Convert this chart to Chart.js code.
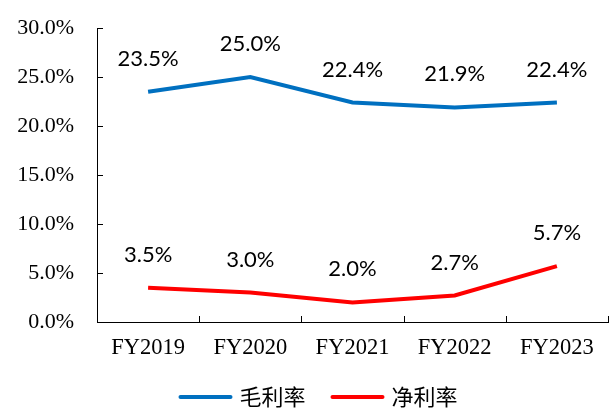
<!DOCTYPE html>
<html>
<head>
<meta charset="utf-8">
<script src="https://cdn.jsdelivr.net/npm/chart.js@4/dist/chart.umd.min.js"></script>
<style>
  html, body { margin: 0; padding: 0; background: #fff; }
  #wrap { width: 611px; height: 412px; }
</style>
</head>
<body>
<div id="wrap"><canvas id="c" width="611" height="412"></canvas></div>
<script>
const years = ['FY2019', 'FY2020', 'FY2021', 'FY2022', 'FY2023'];
const grossMargin = [23.5, 25.0, 22.4, 21.9, 22.4];
const netMargin = [3.5, 3.0, 2.0, 2.7, 5.7];
const seriesNames = ['毛利率', '净利率'];

// 数据标签 + 内侧刻度 + 图例
const labelPlugin = {
  id: 'labels',
  afterDatasetsDraw(chart) {
    const ctx = chart.ctx;
    ctx.save();
    ctx.fillStyle = '#000';
    ctx.font = '22px Lato, "Liberation Sans", sans-serif';
    ctx.textAlign = 'center';
    ctx.textBaseline = 'middle';
    chart.data.datasets.forEach((ds, i) => {
      chart.getDatasetMeta(i).data.forEach((pt, j) => {
        ctx.fillText(ds.data[j].toFixed(1) + '%', pt.x, pt.y - 33);
      });
    });

    const area = chart.chartArea;
    const ys = chart.scales.y;
    ctx.strokeStyle = '#000';
    ctx.lineWidth = 1;
    ctx.beginPath();
    ys.ticks.forEach(t => {
      const y = Math.round(ys.getPixelForValue(t.value)) + 0.5;
      ctx.moveTo(area.left, y);
      ctx.lineTo(area.left + 6, y);
    });
    const n = years.length;
    const w = (area.right - area.left) / n;
    for (let i = 0; i <= n; i++) {
      const x = Math.round(area.left + w * i) + 0.5;
      ctx.moveTo(x, area.bottom);
      ctx.lineTo(x, area.bottom - 6);
    }
    ctx.stroke();

    // legend
    ctx.font = '22px "Noto Sans CJK SC", sans-serif';
    ctx.textAlign = 'left';
    const lineLen = 54, gap = 7, itemGap = 25;
    const items = chart.data.datasets.map(ds => ({ ds, tw: ctx.measureText(ds.label).width }));
    const total = items.reduce((s, it) => s + lineLen + gap + it.tw, 0) + itemGap * (items.length - 1);
    let x = 318 - total / 2;
    const ly = 397;
    items.forEach(it => {
      ctx.strokeStyle = it.ds.borderColor;
      ctx.lineWidth = 4;
      ctx.lineCap = 'round';
      ctx.beginPath();
      ctx.moveTo(x + 2, ly);
      ctx.lineTo(x + lineLen - 2, ly);
      ctx.stroke();
      ctx.fillText(it.ds.label, x + lineLen + gap, ly);
      x += lineLen + gap + it.tw + itemGap;
    });
    ctx.restore();
  }
};

new Chart(document.getElementById('c').getContext('2d'), {
  type: 'line',
  data: {
    labels: years,
    datasets: [{
      label: seriesNames[0],
      data: grossMargin,
      borderColor: '#0070C0',
      backgroundColor: '#0070C0',
      borderWidth: 4,
      pointRadius: 0,
      tension: 0
    }, {
      label: seriesNames[1],
      data: netMargin,
      borderColor: '#FF0000',
      backgroundColor: '#FF0000',
      borderWidth: 4,
      pointRadius: 0,
      tension: 0
    }]
  },
  options: {
    responsive: false,
    animation: false,
    layout: { padding: { top: 28, right: 3, bottom: 33, left: 0 } },
    plugins: {
      tooltip: { enabled: false },
      legend: { display: false }
    },
    scales: {
      x: {
        offset: true,
        grid: { display: true, drawOnChartArea: false, drawTicks: false, offset: true },
        border: { color: '#000', width: 1 },
        ticks: {
          color: '#000',
          padding: 13,
          font: { family: '"Liberation Serif", serif', size: 22.5 }
        },
        afterFit(scale) { scale.height = 57; }
      },
      y: {
        min: 0,
        max: 30,
        grid: { display: true, drawOnChartArea: false, drawTicks: true, tickLength: 21, tickColor: 'rgba(0,0,0,0)' },
        border: { color: '#000', width: 1 },
        ticks: {
          stepSize: 5,
          color: '#000',
          padding: 2,
          font: { family: '"Liberation Serif", serif', size: 22 },
          callback: v => v.toFixed(1) + '%'
        },
        afterFit(scale) { scale.width = 97; }
      }
    }
  },
  plugins: [labelPlugin]
});
</script>
</body>
</html>
